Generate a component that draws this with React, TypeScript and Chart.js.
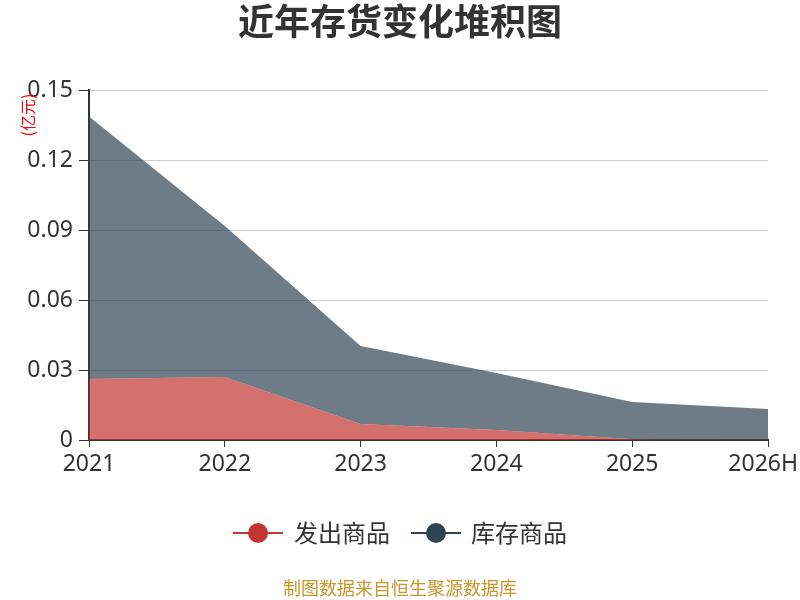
import React, { useEffect, useRef } from 'react';
import Chart from 'chart.js/auto';

const years = ['2021', '2022', '2023', '2024', '2025', '2026H'];
const shippedGoods = [0.0261, 0.027, 0.0069, 0.0043, 0.0003, 0];
const stockGoods = [0.1125, 0.0647, 0.0334, 0.0244, 0.016, 0.0133];
const yTicks = [0, 0.03, 0.06, 0.09, 0.12, 0.15];

const seriesNames = ['发出商品', '库存商品'];
const seriesColors = ['#c23531', '#2f4554'];
const fillColors = ['rgba(194,53,49,0.7)', 'rgba(47,69,84,0.7)'];

const cjk = '"Noto Sans CJK SC", "Noto Sans", sans-serif';
const tickFont = '23px "Noto Sans", sans-serif';

const decorPlugin = {
  id: 'decor',
  afterDraw(chart: any) {
    const ctx = chart.ctx;
    ctx.save();
    // title
    ctx.fillStyle = '#333';
    ctx.font = `bold 36px ${cjk}`;
    ctx.textAlign = 'center';
    ctx.textBaseline = 'middle';
    ctx.fillText('近年存货变化堆积图', 400, 21);

    // x labels, last one kept inside the canvas
    const xs = chart.scales.x;
    ctx.font = tickFont;
    years.forEach((label, i) => {
      const px = xs.getPixelForValue(i);
      const w = ctx.measureText(label).width;
      const cx = Math.min(px, 798 - w / 2);
      ctx.fillText(label, cx, 464);
    });

    // unit label
    ctx.save();
    ctx.translate(28, 115);
    ctx.rotate(-Math.PI / 2);
    ctx.fillStyle = '#ff0000';
    ctx.font = `16px ${cjk}`;
    ctx.fillText('(亿元)', 0, 0);
    ctx.restore();

    // legend
    const items = [
      { x: 233, tx: 294 },
      { x: 411, tx: 471 },
    ];
    items.forEach((it, i) => {
      const y = 533;
      ctx.strokeStyle = seriesColors[i];
      ctx.lineWidth = 2;
      ctx.beginPath();
      ctx.moveTo(it.x, y);
      ctx.lineTo(it.x + 50, y);
      ctx.stroke();
      ctx.fillStyle = seriesColors[i];
      ctx.beginPath();
      ctx.arc(it.x + 25, y, 10, 0, Math.PI * 2);
      ctx.fill();
      ctx.fillStyle = '#333';
      ctx.font = `24px ${cjk}`;
      ctx.textAlign = 'left';
      ctx.fillText(seriesNames[i], it.tx, y);
    });

    // footer
    ctx.fillStyle = '#c9962b';
    ctx.font = `18px ${cjk}`;
    ctx.textAlign = 'center';
    ctx.fillText('制图数据来自恒生聚源数据库', 400, 588);
    ctx.restore();
  },
};

export default function App() {
  const canvasRef = useRef<HTMLCanvasElement>(null);
  const chartRef = useRef<Chart | null>(null);

  useEffect(() => {
    if (!canvasRef.current) return;
    if (chartRef.current) chartRef.current.destroy();

    chartRef.current = new Chart(canvasRef.current, {
      type: 'line',
      data: {
        labels: years,
        datasets: [
          {
            label: seriesNames[0],
            data: shippedGoods,
            fill: 'origin',
            backgroundColor: fillColors[0],
            borderColor: seriesColors[0],
            borderWidth: 0,
            pointRadius: 0,
          },
          {
            label: seriesNames[1],
            data: stockGoods,
            fill: '-1',
            backgroundColor: fillColors[1],
            borderColor: seriesColors[1],
            borderWidth: 0,
            pointRadius: 0,
          },
        ],
      },
      options: {
        animation: false,
        responsive: false,
        layout: { padding: { top: 90, right: 32, left: 0, bottom: 0 } },
        plugins: {
          legend: { display: false },
          title: { display: false },
          tooltip: { enabled: false },
        },
        scales: {
          x: {
            offset: false,
            afterFit: (s: any) => { s.height = 160; s.paddingLeft = 0; s.paddingRight = 0; },
            grid: { drawOnChartArea: false, tickColor: '#333', tickLength: 7 },
            border: { color: '#333', width: 2 },
            ticks: { color: 'rgba(0,0,0,0)', font: { size: 23, family: '"Noto Sans", sans-serif' }, padding: 2, maxRotation: 0 },
          },
          y: {
            stacked: true,
            min: 0,
            max: 0.15,
            afterFit: (s: any) => { s.width = 89; s.paddingTop = 0; s.paddingBottom = 0; },
            afterBuildTicks: (s: any) => { s.ticks = yTicks.map((v) => ({ value: v })); },
            grid: { color: '#ccc', lineWidth: 1, tickColor: '#333', tickLength: 10 },
            border: { color: '#333', width: 2 },
            ticks: {
              color: '#333',
              font: { size: 23, family: '"Noto Sans", sans-serif' },
              padding: 6,
              callback: (v: any) => (v === 0 ? '0' : Number(v).toFixed(2)),
            },
          },
        },
      },
      plugins: [decorPlugin],
    });

    return () => { if (chartRef.current) chartRef.current.destroy(); };
  }, []);

  return (
    <div style={{ position: 'absolute', left: 0, top: 0, width: 800, height: 600, background: '#fff' }}>
      <canvas ref={canvasRef} width={800} height={600} style={{ width: 800, height: 600 }} />
    </div>
  );
}
